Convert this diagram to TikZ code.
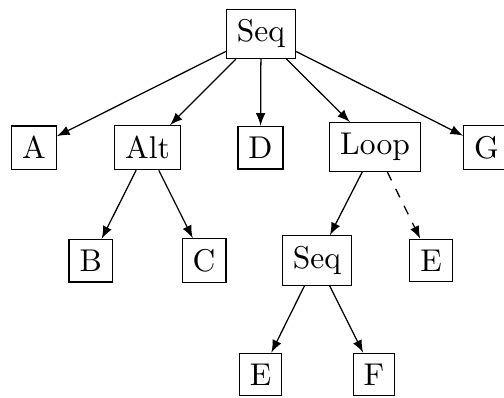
\documentclass[tikz,border=0pt]{standalone}
\usetikzlibrary{arrows}
\begin{document}
\begin{tikzpicture}[x=0.31746pt,y=-0.31746pt,
  box/.style={draw,rectangle},
  edge/.style={-latex},
  optedge/.style={-latex,dashed}]
\useasboundingbox (0,0) rectangle (504,397);
\node[box] (seq) at (261,33.8) {Seq};
\node[box] (a) at (34,147.7) {A};
\node[box] (alt) at (147.5,147.7) {Alt};
\node[box] (d) at (260.5,147.7) {D};
\node[box] (loop) at (375,147) {Loop};
\node[box] (g) at (486.5,147.5) {G};
\node[box] (b) at (90.7,260.7) {B};
\node[box] (c) at (204,260.7) {C};
\node[box] (seq2) at (317,260.5) {Seq};
\node[box] (e1) at (431,260.5) {E};
\node[box] (e2) at (260.5,374.5) {E};
\node[box] (f) at (374,374.5) {F};
\draw[edge] (seq) -- (a);
\draw[edge] (seq) -- (alt);
\draw[edge] (seq) -- (d);
\draw[edge] (seq) -- (loop);
\draw[edge] (seq) -- (g);
\draw[edge] (alt) -- (b);
\draw[edge] (alt) -- (c);
\draw[edge] (loop) -- (seq2);
\draw[optedge] (loop) -- (e1);
\draw[edge] (seq2) -- (e2);
\draw[edge] (seq2) -- (f);
\end{tikzpicture}
\end{document}
